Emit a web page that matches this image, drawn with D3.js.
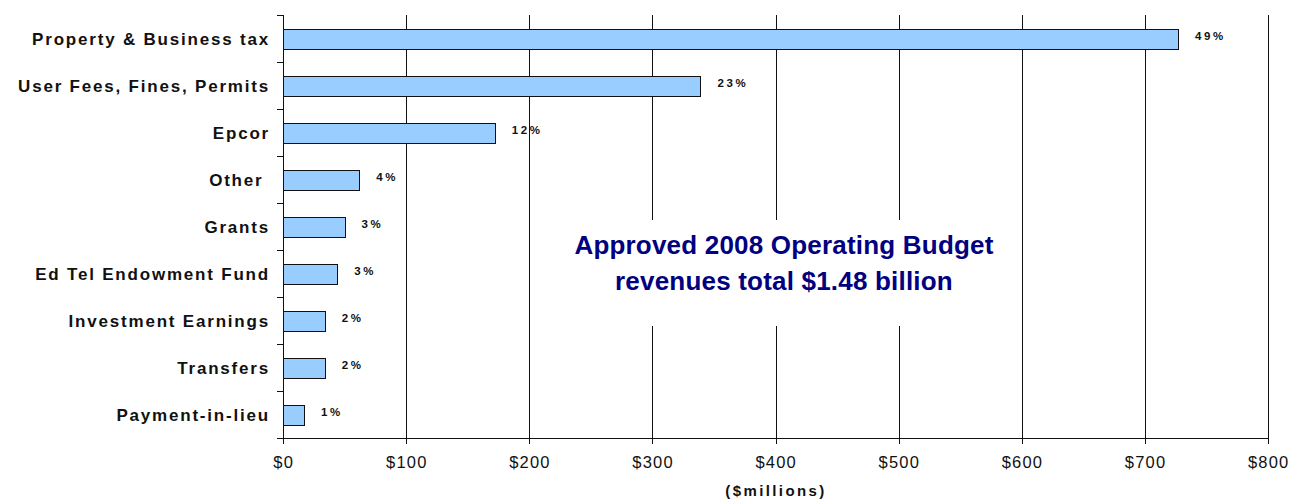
<!DOCTYPE html>
<html><head><meta charset="utf-8">
<script src="https://cdn.jsdelivr.net/npm/d3@7"></script>
<style>body{margin:0;background:#fff;} text{font-family:"Liberation Sans",Arial,Helvetica,sans-serif;}</style>
</head><body><svg id="c" width="1302" height="500"></svg>
<script>
const categories = ["Property & Business tax","User Fees, Fines, Permits","Epcor","Other ","Grants","Ed Tel Endowment Fund","Investment Earnings","Transfers","Payment-in-lieu"];
const values = [727,339,172,62,50,44,34,34,17];
const shares = ["49%","23%","12%","4%","3%","3%","2%","2%","1%"];
const xTicks = [0,100,200,300,400,500,600,700,800];
const titleLines = ["Approved 2008 Operating Budget","revenues total $1.48 billion"];
const xTitle = "($millions)";

const svg = d3.select("#c");
const x = d3.scaleLinear().domain([0,800]).range([283,1268]);
const y = d3.scaleBand().domain(categories).range([15,438]).paddingInner(0.58).paddingOuter(0.29);
const step = y.step();
const crisp = v => Math.round(v) + 0.5;

// gridlines
svg.append("g").selectAll("line").data(xTicks.slice(1)).join("line")
  .attr("x1", d => crisp(x(d))).attr("x2", d => crisp(x(d)))
  .attr("y1", 15).attr("y2", 438)
  .attr("stroke", "#111").attr("stroke-width", 1);

// bars
svg.append("g").selectAll("rect").data(values).join("rect")
  .attr("x", crisp(x(0)))
  .attr("y", (d,i) => Math.round(y(categories[i])) + 0.5)
  .attr("width", d => Math.round(x(d) - x(0)))
  .attr("height", Math.round(y.bandwidth()))
  .attr("fill", "#99CCFF").attr("stroke", "#111").attr("stroke-width", 1);

// y axis line and ticks at band boundaries
const yax = svg.append("g");
yax.append("line").attr("x1", crisp(x(0))).attr("x2", crisp(x(0))).attr("y1", 15).attr("y2", 438)
  .attr("stroke", "#111");
yax.selectAll("line.t").data(d3.range(categories.length + 1)).join("line").attr("class","t")
  .attr("x1", 277).attr("x2", crisp(x(0)))
  .attr("y1", i => crisp(15 + i * step)).attr("y2", i => crisp(15 + i * step))
  .attr("stroke", "#111");

// x axis
const xax = svg.append("g");
xax.append("line").attr("x1", 277).attr("x2", crisp(x(800))).attr("y1", 438.5).attr("y2", 438.5).attr("stroke", "#111");
xax.selectAll("line.t").data(xTicks).join("line").attr("class","t")
  .attr("x1", d => crisp(x(d))).attr("x2", d => crisp(x(d)))
  .attr("y1", 438).attr("y2", 444).attr("stroke", "#111");
xax.selectAll("text").data(xTicks).join("text")
  .attr("x", d => x(d) + 0.75).attr("y", 468)
  .attr("text-anchor", "middle").attr("font-size", 16.5).attr("letter-spacing", "1.2px")
  .attr("fill", "#111")
  .text(d => "$" + d);

// category labels
svg.append("g").selectAll("text").data(categories).join("text")
  .attr("x", 270).attr("y", d => y(d) + y.bandwidth() / 2 + 6)
  .attr("text-anchor", "end").attr("font-size", 17).attr("font-weight", "bold")
  .attr("letter-spacing", "1.8px").attr("fill", "#111")
  .attr("xml:space", "preserve")
  .text(d => d);

// percent labels
svg.append("g").selectAll("text").data(values).join("text")
  .attr("x", d => x(d) + 17).attr("y", (d,i) => y(categories[i]) + y.bandwidth() / 2 + 1)
  .attr("font-size", 11.5).attr("font-weight", "bold").attr("letter-spacing", "2.6px")
  .attr("fill", "#111")
  .text((d,i) => shares[i]);

// axis title
svg.append("text").attr("x", 776).attr("y", 496).attr("text-anchor", "middle")
  .attr("font-size", 15).attr("font-weight", "bold").attr("letter-spacing", "2.4px")
  .attr("fill", "#111").text(xTitle);

// annotation box
svg.append("rect").attr("x", 560).attr("y", 220).attr("width", 445).attr("height", 106).attr("fill", "#fff");
svg.append("g").selectAll("text").data(titleLines).join("text")
  .attr("x", 784).attr("y", (d,i) => 254 + i * 36)
  .attr("text-anchor", "middle").attr("font-size", 26).attr("font-weight", "bold")
  .attr("letter-spacing", "0.2px").attr("fill", "#000080")
  .text(d => d);
</script>
</body></html>
